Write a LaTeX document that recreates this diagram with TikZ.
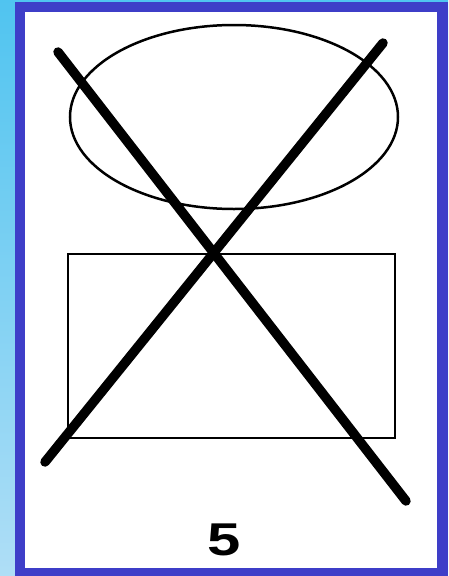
\documentclass[tikz,border=0pt]{standalone}
\usepackage{fontspec}
\setmainfont{Liberation Sans}
\definecolor{bgtop}{RGB}{80,196,240}
\definecolor{bgbot}{RGB}{175,222,246}
\definecolor{framec}{RGB}{62,62,200}
\tikzset{
  crossline/.style={line width=9.5pt, line cap=round, black},
  thinshape/.style={line width=2.5pt, black},
}
\begin{document}
\begin{tikzpicture}[x=1pt,y=-1pt]
\useasboundingbox (0,0) rectangle (448,576);
\shade[top color=bgtop, bottom color=bgbot] (0,0) rectangle (448,576);
\fill[framec] (15,2) rectangle (448,576);
\fill[white] (25,12) rectangle (437,568);
% shapes
\draw[thinshape] (234,117) ellipse [x radius=164, y radius=92];
\draw[thinshape, line width=2.2pt] (68,254) rectangle (395,438);
% cross
\coordinate (a1) at (58,52);
\coordinate (a2) at (406,501);
\coordinate (b1) at (45,462);
\coordinate (b2) at (383,43);
\draw[crossline] (a1) -- (a2);
\draw[crossline] (b1) -- (b2);
\node[font=\bfseries\fontsize{46}{46}\selectfont, xscale=1.3, inner sep=0] (num) at (224,540) {5};
\end{tikzpicture}
\end{document}
